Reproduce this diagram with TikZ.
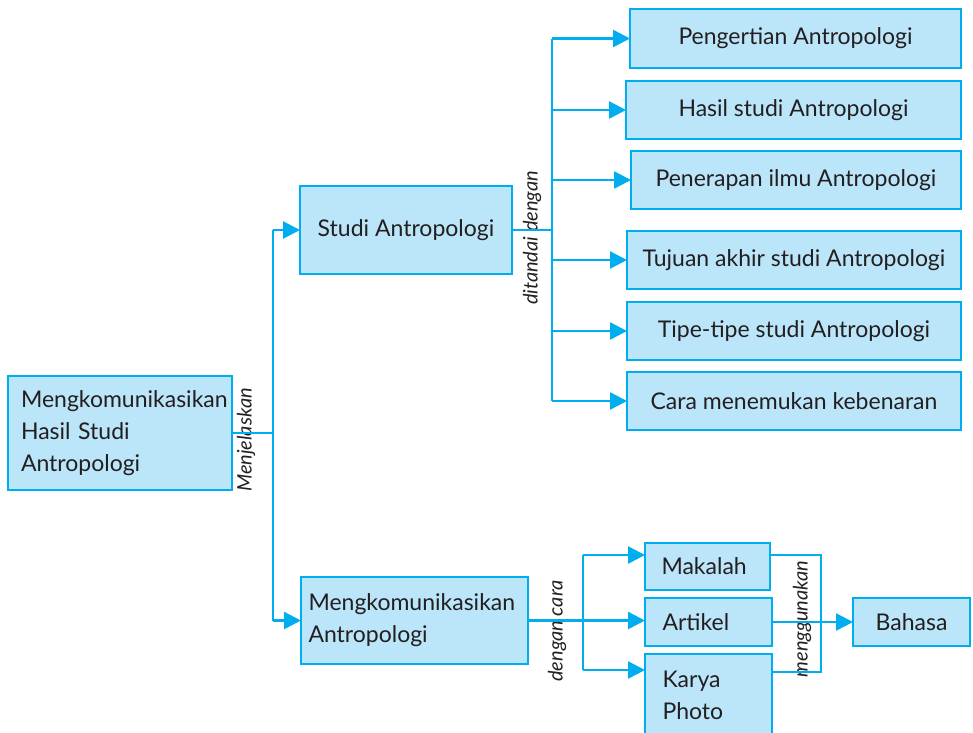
\documentclass[tikz,border=0pt]{standalone}
\usepackage{fontspec}
\setmainfont{Lato}
\usetikzlibrary{arrows.meta,positioning}
\definecolor{garis}{HTML}{00AEEF}
\definecolor{isi}{HTML}{BBE5F9}
\definecolor{teks}{HTML}{231F20}
\tikzset{
  kotak/.style={draw=garis,fill=isi,line width=2.6pt,text=teks,anchor=north west,
    inner sep=0pt,outer sep=0pt,font=\fontsize{23}{32}\selectfont},
  garisan/.style={draw=garis,line width=2.4pt},
  panah/.style={garisan,-{Triangle[length=17pt,width=17pt]}},
  ket/.style={rotate=90,text=teks,inner sep=0pt,font=\fontsize{20}{22}\selectfont\itshape}
}
\begin{document}
\begin{tikzpicture}[x=1pt,y=-1pt]
  \useasboundingbox (0,0) rectangle (973,732);
  % kotak utama
  \node[kotak,minimum width=224,minimum height=114,text width=198,align=left] (utama) at (8,376)
    {\hbox{Mengkomunikasikan}\\Hasil Studi\\Antropologi};
  \node[kotak,minimum width=212,minimum height=88] (studi) at (300,186) {Studi Antropologi};
  \node[kotak,minimum width=227,minimum height=87,text width=212,align=left] (komun) at (301,577)
    {Mengkomunikasikan\\Antropologi};
  % ciri-ciri studi antropologi
  \node[kotak,minimum width=331,minimum height=59] (pengertian) at (630,9) {Pengertian Antropologi};
  \node[kotak,minimum width=335,minimum height=58] (hasil) at (626,81) {Hasil studi Antropologi};
  \node[kotak,minimum width=330,minimum height=58] (penerapan) at (631,151) {Penerapan ilmu Antropologi};
  \node[kotak,minimum width=334,minimum height=58] (tujuan) at (627,231) {Tujuan akhir studi Antropologi};
  \node[kotak,minimum width=334,minimum height=58] (tipe) at (627,302) {Tipe-tipe studi Antropologi};
  \node[kotak,minimum width=334,minimum height=58] (cara) at (627,372) {Cara menemukan kebenaran};
  % cara mengkomunikasikan
  \node[kotak,minimum width=125,minimum height=47,text width=92,align=left] (makalah) at (645,543) {Makalah};
  \node[kotak,minimum width=127,minimum height=48,text width=92,align=left] (artikel) at (645,598) {Artikel};
  \node[kotak,minimum width=127,minimum height=82,text width=92,align=left] (karya) at (645,654) {Karya\\Photo};
  \node[kotak,minimum width=117,minimum height=48] (bahasa) at (853,598) {Bahasa};
  % keterangan garis
  \node[ket] (ketjelas) at (246,440) {Menjelaskan};
  \node[ket] (kettanda) at (532,238) {ditandai dengan};
  \node[ket] (ketcara) at (557,631) {dengan cara};
  \node[ket] (ketguna) at (802,619) {menggunakan};
  % titik cabang
  \coordinate (c1) at (273,433);
  \coordinate (c2) at (552,230);
  \coordinate (dtop) at (583,555);
  \coordinate (dbot) at (583,670);
  \coordinate (gtop) at (821,555);
  \coordinate (gbot) at (821,672);
  % garis dari kotak utama
  \draw[garisan] (utama.east) -- (c1);
  \draw[garisan] (c1 |- studi.west) -- (c1 |- komun.west);
  \draw[panah] (c1 |- studi.west) -- (studi.west);
  \draw[panah] (c1 |- komun.west) -- (komun.west);
  % garis ke ciri-ciri
  \draw[garisan] (studi.east) -- (c2);
  \draw[garisan] (c2 |- pengertian.west) -- (c2 |- cara.west);
  \foreach \n in {pengertian,hasil,penerapan,tujuan,tipe,cara}
    \draw[panah] (c2 |- \n.west) -- (\n.west);
  % garis dengan cara
  \draw[panah] (komun.east) -- (artikel.west |- komun.east);
  \draw[garisan] (dtop) -- (dbot);
  \draw[panah] (dtop) -- (makalah.west |- dtop);
  \draw[panah] (dbot) -- (karya.west |- dbot);
  % garis menggunakan
  \draw[garisan] (makalah.east |- gtop) -- (gtop) -- (gbot) -- (karya.east |- gbot);
  \draw[panah] (artikel.east) -- (bahasa.west);
\end{tikzpicture}
\end{document}
